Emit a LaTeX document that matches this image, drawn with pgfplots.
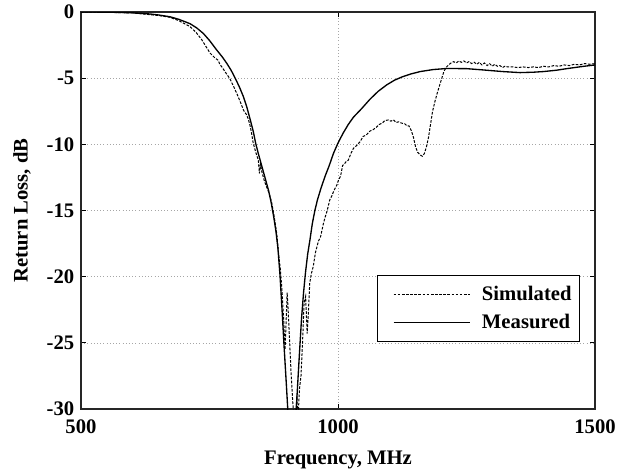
\documentclass[border=0pt]{standalone}
\usepackage{pgfplots}
\pgfplotsset{compat=1.18}
\usepackage{fontspec}
\setmainfont{Liberation Serif}
\begin{document}
\begin{tikzpicture}
\begin{axis}[
  scale only axis,
  width=385.5pt, height=297.75pt,
  xmin=500, xmax=1500, ymin=-30, ymax=0,
  xtick={500,1000,1500},
  xticklabels={500,1000,1500},
  ytick={-30,-25,-20,-15,-10,-5,0},
  yticklabels={-30,-25,-20,-15,-10,-5,0},
  tick align=inside,
  major tick length=4pt,
  tick style={black, line width=0.6pt},
  axis line style={line width=1.1pt, black!85},
  grid=major,
  major grid style={dotted, gray!70, line width=0.5pt},
  ticklabel style={font=\bfseries\fontsize{15.5}{16}\selectfont},
  xticklabel style={yshift=-4.5pt},
  yticklabel style={xshift=-1.5pt},
  xlabel={\bfseries Frequency, MHz},
  ylabel={\bfseries Return Loss, dB},
  label style={font=\bfseries\fontsize{15.5}{17}\selectfont},
  xlabel style={at={(axis description cs:0.5,-0.1285)}, anchor=center},
  ylabel style={at={(axis description cs:-0.1148,0.5)}, anchor=center},
  legend style={at={(axis description cs:0.971,0.169)}, anchor=south east,
    draw=black, line width=0.8pt, fill=white,
    font=\bfseries\fontsize{15.5}{17}\selectfont,
    row sep=5pt, inner xsep=4pt, inner ysep=6pt},
  legend cell align=left,
  legend image code/.code={\path (0pt,0pt); \draw[#1] (7.5pt,0pt) -- (64.5pt,0pt); \path (71.25pt,0pt);},
  clip=true,
]
\addplot[black, line width=0.75pt, dash pattern=on 2pt off 1.1pt] coordinates {
(500,0) (550,-0.02) (600,-0.07) (634,-0.2) (650,-0.26) (673,-0.4) (690,-0.65)
(712,-1.1) (724,-1.55) (735,-2.1) (743,-2.6) (751,-3.1) (760,-3.45) (767,-3.65)
(770,-3.95) (775,-4.2) (780,-4.5) (789,-5.0) (796,-5.55) (803,-6.15) (810,-6.8)
(816,-7.4) (819,-7.6) (822,-7.75) (825.5,-8.1) (829,-8.6) (832,-9.2) (835,-9.9)
(840,-10.6) (845,-11.2) (847,-12.2) (849,-11.5) (852,-12.1) (857,-12.8) (861,-13.2)
(866,-13.7) (871,-14.4) (876,-15.5) (881,-16.8) (885,-18.5) (888,-19.5)
(891,-21) (894,-23) (897,-25.5) (899,-23.5) (901,-21.2) (903,-22.5) (906,-25)
(909,-27.5) (912,-29.5) (915,-31) (918,-30.5) (920,-29) (922,-31) (925,-28.5)
(928,-27.5) (931,-25) (934,-22) (937,-21.5) (940,-24.3) (942,-23) (945,-20.5)
(948,-19.8) (952,-19.2) (956,-18.2) (962,-17.3) (966,-17.0) (971.5,-16.0)
(975,-15.5) (979,-15.0) (984,-14.2) (988,-13.9) (992,-13.5) (997.5,-13.1)
(1001,-12.7) (1005,-12.4) (1009,-11.6) (1012,-11.5) (1016,-11.3) (1020,-11.2)
(1025,-10.7) (1030,-10.3) (1036,-10.1) (1043,-9.8) (1049,-9.4) (1055,-9.3)
(1062,-9.0) (1068,-8.9) (1075,-8.7) (1080,-8.5) (1086,-8.4) (1091,-8.2)
(1098,-8.16) (1103,-8.25) (1108,-8.15) (1113,-8.35) (1118,-8.3) (1124,-8.4)
(1130,-8.45) (1134,-8.6) (1138,-8.6) (1143,-9.0) (1147,-9.5) (1151,-10.2)
(1155,-10.6) (1160,-10.8) (1164,-10.9) (1168,-10.7) (1172,-10.2) (1176,-9.5)
(1180,-8.5) (1184,-7.5) (1189,-6.7) (1194,-6.0) (1198,-5.5) (1202,-5.0)
(1206,-4.5) (1210,-4.2) (1215,-4.0) (1220,-3.85) (1225,-3.75) (1230,-3.85)
(1235,-3.7) (1240,-3.8) (1245,-3.7) (1250,-3.85) (1255,-3.75) (1260,-3.9)
(1265,-3.8) (1270,-3.95) (1275,-3.8) (1280,-4.0) (1285,-3.85) (1290,-4.05)
(1295,-3.9) (1300,-4.1) (1305,-3.95) (1310,-4.1) (1315,-4.05) (1320,-4.2)
(1325,-4.1) (1330,-4.15) (1340,-4.15) (1350,-4.2) (1360,-4.15) (1370,-4.2)
(1380,-4.15) (1390,-4.2) (1400,-4.1) (1410,-4.15) (1420,-4.05) (1430,-4.1)
(1440,-4.0) (1450,-4.05) (1460,-3.95) (1470,-4.0) (1480,-3.9) (1490,-3.95)
(1500,-3.9)
};
\addlegendentry{Simulated}
\addplot[black, line width=1pt] coordinates {
(500,0) (550,-0.01) (600,-0.06) (634,-0.15) (650,-0.22) (673,-0.36) (690,-0.55)
(712,-0.88) (725,-1.2) (738,-1.62) (750,-2.15) (764,-2.87) (775,-3.4) (784,-3.9)
(792,-4.4) (800,-5.0) (808,-5.65) (816,-6.4) (822,-7.1) (829,-8.1) (835,-9.0)
(840,-9.95) (845,-10.7) (850,-11.4) (855,-12.1) (860,-12.8) (865,-13.5)
(870,-14.4) (875,-15.5) (879,-16.5) (883,-17.8) (887,-19.8) (891,-22.4)
(895,-25.2) (899,-27.8) (903,-30.5) (910,-38) (918,-30.5) (921,-28.5)
(925,-25.8) (929,-23.2) (933,-21.2) (937,-19.6) (941,-18.3) (945.5,-17.2)
(950,-16.0) (955,-15.0) (960,-14.2) (967,-13.3) (975,-12.4) (983,-11.6)
(991,-10.7) (1000,-9.9) (1010,-9.15) (1020,-8.5) (1030,-7.95) (1046,-7.3)
(1062,-6.6) (1078,-6.0) (1095,-5.5) (1110,-5.15) (1125,-4.9) (1142,-4.68)
(1160,-4.5) (1185,-4.35) (1211,-4.27) (1250,-4.28) (1283,-4.38) (1320,-4.5)
(1354,-4.58) (1380,-4.55) (1400,-4.5) (1425,-4.4) (1445,-4.28) (1475,-4.12)
(1500,-4.0)
};
\addlegendentry{Measured}
\end{axis}
\pgfresetboundingbox
\path ([xshift=-60.75pt,yshift=-47.25pt]current axis.south west) rectangle ([xshift=25.5pt,yshift=9pt]current axis.north east);
\end{tikzpicture}
\end{document}
